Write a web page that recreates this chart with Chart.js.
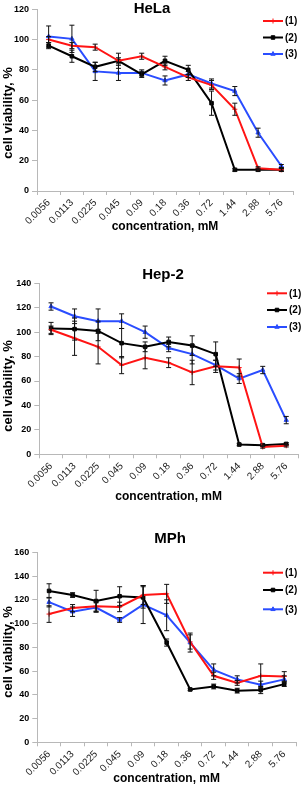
<!DOCTYPE html>
<html>
<head>
<meta charset="utf-8">
<script src="https://cdn.jsdelivr.net/npm/chart.js@4.4.1/dist/chart.umd.min.js"></script>
<style>
    body { margin: 0; background: #fff; }
    .panel { position: absolute; left: 0; width: 303px; height: 263px; }
</style>
</head>
<body>
<div class="panel" style="top:0"><canvas id="helaChart" width="303" height="263"></canvas></div>
<div class="panel" style="top:263px"><canvas id="hep2Chart" width="303" height="263"></canvas></div>
<div class="panel" style="top:526px"><canvas id="mphChart" width="303" height="263"></canvas></div>
<script>
// concentrations, mM
const concentrations = ['0.0056', '0.0113', '0.0225', '0.045', '0.09', '0.18', '0.36', '0.72', '1.44', '2.88', '5.76'];
const seriesLabels = ['(1)', '(2)', '(3)'];

// HeLa
const helaS1 = [100, 96, 95, 86, 89, 82, 75, 70, 54, 15, 14];
const helaS1Err = [2, 2, 2, 2, 2, 2, 2, 3, 4, 1, 1];
const helaS2 = [96, 89, 82, 86, 77, 86, 80, 58, 14, 14, 14];
const helaS2Err = [2, 4, 3, 5, 2, 3, 3, 8, 1, 1, 1];
const helaS3 = [102, 100.5, 79, 78, 78, 73, 77, 71, 66, 38.5, 16.5];
const helaS3Err = [7, 9, 6, 5, 2, 3, 2, 3, 3, 3, 1];

// Hep-2
const hep2S1 = [102, 95, 88, 73, 79, 75, 67, 72, 71, 6, 7];
const hep2S1Err = [3, 14, 14, 7, 9, 4, 10, 5, 7, 1, 1];
const hep2S2 = [103, 102.5, 101, 91, 88, 92, 89, 82, 8, 7.5, 8.5];
const hep2S2Err = [5, 9, 8, 12, 4, 4, 8, 10, 1, 1, 1];
const hep2S3 = [121, 113, 109, 109, 100, 87, 82, 73, 62, 69, 28];
const hep2S3Err = [3, 6, 10, 6, 5, 3, 8, 4, 4, 3, 3];

// MPh
const mphS1 = [108, 113, 114.5, 114, 124, 125, 84.5, 56, 50, 56, 55.5];
const mphS1Err = [7, 3, 4, 4, 8, 8, 6, 3, 2, 10, 4];
const mphS2 = [127.5, 124, 119, 123, 122, 84, 44.5, 47, 43.5, 44, 49];
const mphS2Err = [6, 2, 9, 8, 9, 3, 1, 2, 2, 3, 2];
const mphS3 = [118, 110, 113.5, 103, 116, 107, 84, 61, 53, 48.5, 53];
const mphS3Err = [4, 4, 4, 2, 16, 13, 8, 5, 3, 3, 3];

const colors = ['#ff1414', '#000000', '#2a4dff'];
const markers = ['cross', 'rect', 'triangle'];
const FONT = "'Liberation Sans', Arial, sans-serif";
const AXIS_GREY = '#b8b8b8';

// error bars + title + y title + legend
const overlayPlugin = {
    id: 'overlay',
    afterDatasetsDraw(chart, args, opts) {
        const ctx = chart.ctx;
        const y = chart.scales.y;
        ctx.save();
        ctx.strokeStyle = '#111';
        ctx.lineWidth = 1;
        chart.data.datasets.forEach((ds, i) => {
            const meta = chart.getDatasetMeta(i);
            meta.data.forEach((pt, j) => {
                const e = ds.errors[j];
                const top = y.getPixelForValue(ds.data[j] + e);
                const bot = y.getPixelForValue(ds.data[j] - e);
                ctx.beginPath();
                ctx.moveTo(pt.x, top); ctx.lineTo(pt.x, bot);
                ctx.moveTo(pt.x - 2.5, top); ctx.lineTo(pt.x + 2.5, top);
                ctx.moveTo(pt.x - 2.5, bot); ctx.lineTo(pt.x + 2.5, bot);
                ctx.stroke();
            });
        });

        ctx.fillStyle = '#000';
        ctx.textAlign = 'center';
        ctx.textBaseline = 'middle';
        ctx.font = 'bold 15px ' + FONT;
        ctx.fillText(opts.title, opts.titleX, opts.titleY);

        ctx.save();
        ctx.translate(opts.yTitleX, opts.yTitleY);
        ctx.rotate(-Math.PI / 2);
        ctx.font = 'bold 13px ' + FONT;
        ctx.fillText('cell viability, %', 0, 0);
        ctx.restore();

        // legend
        ctx.font = 'bold 10px ' + FONT;
        ctx.textAlign = 'left';
        chart.data.datasets.forEach((ds, i) => {
            const ly = opts.legendY[i];
            ctx.strokeStyle = ds.borderColor;
            ctx.fillStyle = ds.borderColor;
            ctx.lineWidth = 2;
            ctx.beginPath();
            ctx.moveTo(opts.legendX, ly);
            ctx.lineTo(opts.legendX + 20, ly);
            ctx.stroke();
            ctx.lineWidth = 1;
            Chart.helpers.drawPoint(ctx, {pointStyle: ds.pointStyle, radius: 2.5, rotation: 0, borderWidth: 1}, opts.legendX + 10, ly);
            ctx.fillStyle = '#000';
            ctx.fillText(ds.label, opts.legendX + 22, ly + 0.5);
        });
        ctx.restore();
    }
};

function makeChart(id, yMax, values, errors, frame) {
    const datasets = values.map((v, i) => ({
        label: seriesLabels[i],
        data: v,
        errors: errors[i],
        borderColor: colors[i],
        backgroundColor: colors[i],
        borderWidth: 2,
        pointStyle: markers[i],
        pointRadius: 2.5,
        pointBorderWidth: 1,
        tension: 0
    }));

    return new Chart(document.getElementById(id), {
        type: 'line',
        data: { labels: concentrations, datasets },
        plugins: [overlayPlugin],
        options: {
            responsive: false,
            animation: false,
            layout: { padding: { left: 0, top: frame.top, right: 303 - frame.right, bottom: frame.padBottom } },
            plugins: {
                legend: { display: false },
                tooltip: { enabled: false },
                overlay: frame
            },
            scales: {
                x: {
                    offset: true,
                    grid: { offset: true, drawOnChartArea: false, color: AXIS_GREY, tickLength: 4 },
                    border: { color: AXIS_GREY },
                    ticks: { minRotation: 45, maxRotation: 45, padding: 2, color: '#222', font: { family: FONT, size: 10 } },
                    title: { display: true, text: 'concentration, mM', color: '#000', padding: 0, font: { family: FONT, size: 12, weight: 'bold' } },
                    afterFit: s => { s.height = 263 - frame.padBottom - frame.bottom; }
                },
                y: {
                    min: 0,
                    max: yMax,
                    ticks: { stepSize: 20, padding: 3, color: '#000', font: { family: FONT, size: 9, weight: 'bold' } },
                    grid: { drawOnChartArea: false, color: AXIS_GREY, tickLength: 5 },
                    border: { color: AXIS_GREY },
                    afterFit: s => { s.width = frame.left; }
                }
            }
        }
    });
}

makeChart('helaChart', 120, [helaS1, helaS2, helaS3], [helaS1Err, helaS2Err, helaS3Err], {
    left: 37, top: 9.3, right: 293, bottom: 191, padBottom: 29,
    title: 'HeLa', titleX: 152, titleY: 9, yTitleX: 8, yTitleY: 113,
    legendX: 263, legendY: [21, 37.5, 54]
});

makeChart('hep2Chart', 140, [hep2S1, hep2S2, hep2S3], [hep2S1Err, hep2S2Err, hep2S3Err], {
    left: 39.3, top: 20.3, right: 300, bottom: 191.3, padBottom: 21.8,
    title: 'Hep-2', titleX: 163, titleY: 12, yTitleX: 8, yTitleY: 123,
    legendX: 267, legendY: [30.3, 47, 64]
});

makeChart('mphChart', 160, [mphS1, mphS2, mphS3], [mphS1Err, mphS2Err, mphS3Err], {
    left: 37.3, top: 26.3, right: 296, bottom: 216.3, padBottom: 3.5,
    title: 'MPh', titleX: 170, titleY: 13, yTitleX: 8, yTitleY: 126,
    legendX: 263, legendY: [46.7, 64, 83.3]
});
</script>
</body>
</html>
